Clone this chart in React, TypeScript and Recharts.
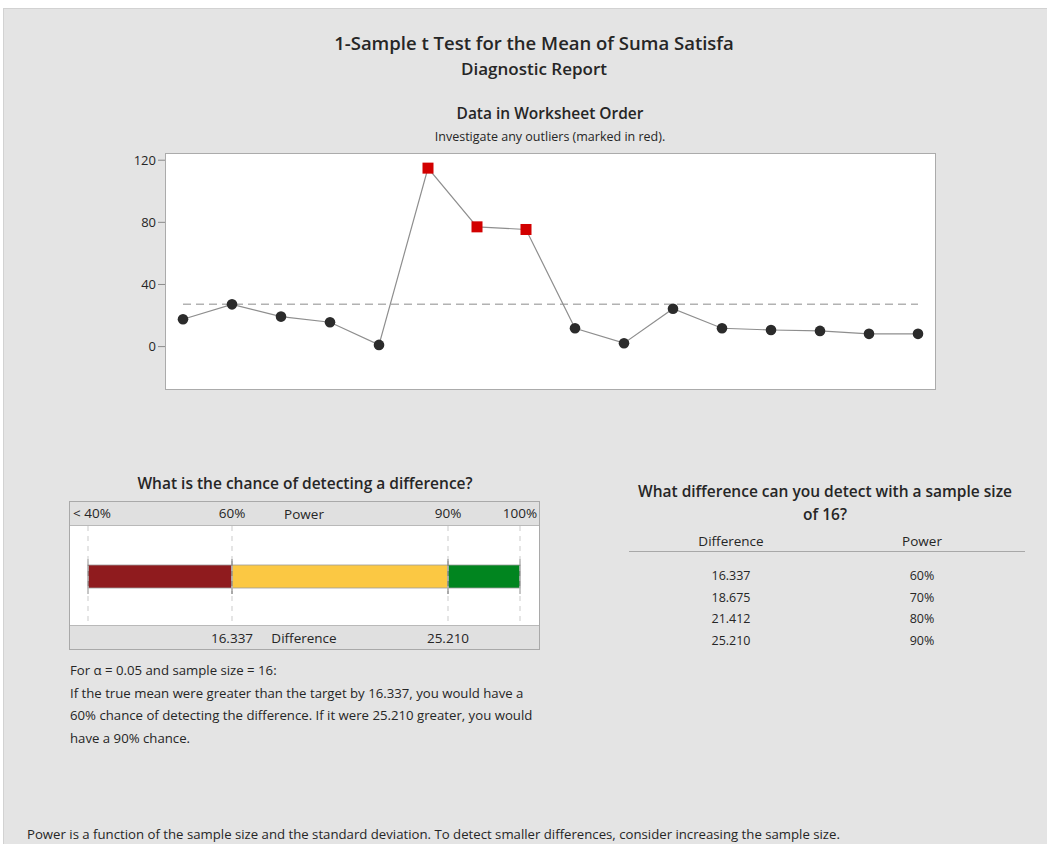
import React from 'react';
import {
  LineChart, Line, XAxis, YAxis, BarChart, Bar, ReferenceLine,
} from 'recharts';

// Observations of Suma Satisfa in worksheet order
const observations = [1, 2, 3, 4, 5, 6, 7, 8, 9, 10, 11, 12, 13, 14, 15, 16];
const satisfaValues = [17.6, 27.2, 19.3, 15.7, 1.1, 114.9, 77.1, 75.4, 11.8, 2.2, 24.4, 11.8, 10.7, 10.1, 8.2, 8.2];
// Rows flagged as unusual
const outlierRows = [6, 7, 8];
const yTicks = [0, 40, 80, 120];

// Power scale
const powerLevels = [40, 60, 90, 100];
const powerTickLabels = ['< 40%', '60%', '90%', '100%'];
const powerBands = [
  { key: 'low', range: [40, 60] },
  { key: 'mid', range: [60, 90] },
  { key: 'high', range: [90, 100] },
];

// Detectable differences for sample size 16
const detectDifferences = ['16.337', '18.675', '21.412', '25.210'];
const detectPowers = [60, 70, 80, 90];
const markedPowers = [60, 90];

const bandColors: Record<string, string> = { low: '#8f1b1e', mid: '#fbc843', high: '#01851f' };

const meanValue = satisfaValues.reduce((a, b) => a + b, 0) / satisfaValues.length;

const worksheetRows = observations.map((obs, i) => ({
  obs,
  value: satisfaValues[i],
  mean: meanValue,
  outlier: outlierRows.includes(obs),
}));

const powerRow = [
  powerBands.reduce((row: any, b) => { row[b.key] = b.range; return row; }, { name: 'power' }),
];

const FONT = '"Open Sans", "Noto Sans", sans-serif';
const TEXT = '#262626';

const renderDot = (props: any) => {
  const { cx, cy, payload, index } = props;
  if (cx == null || cy == null) return <g key={`d-${index}`} />;
  if (payload.outlier) {
    return <rect key={`d-${index}`} x={cx - 5.5} y={cy - 5.5} width={11} height={11} fill="#d20000" />;
  }
  return <circle key={`d-${index}`} cx={cx} cy={cy} r={5.3} fill="#2b2b2b" />;
};

const SegmentShape = (props: any) => {
  const { x, y, width, height, fill } = props;
  return (
    <g>
      <rect x={x} y={y} width={width} height={height} fill={fill} stroke="#9c9c9c" strokeWidth={0.8} />
      <line x1={x} x2={x} y1={y - 6} y2={y + height + 6} stroke="#8c8c8c" strokeWidth={1} />
      <line x1={x + width} x2={x + width} y1={y - 6} y2={y + height + 6} stroke="#8c8c8c" strokeWidth={1} />
    </g>
  );
};

const PowerTick = (props: any) => {
  const { x, y, payload } = props;
  const i = powerLevels.indexOf(payload.value);
  const label = powerTickLabels[i];
  const first = i === 0;
  return (
    <text x={first ? x - 15 : x} y={y} textAnchor={first ? 'start' : 'middle'}
      fontSize={13.5} fill={TEXT} fontFamily={FONT}>{label}</text>
  );
};

const DiffTick = (props: any) => {
  const { x, y, payload } = props;
  const label = detectDifferences[detectPowers.indexOf(payload.value)];
  return (
    <text x={x} y={y + 9} textAnchor="middle" fontSize={13.5} fill={TEXT} fontFamily={FONT}>{label}</text>
  );
};

const abs = (left: number, top: number, extra: React.CSSProperties = {}): React.CSSProperties => ({
  position: 'absolute', left, top, ...extra,
});

export default function App() {
  return (
    <div style={abs(0, 0, { width: 1047, height: 844, overflow: 'hidden', fontFamily: FONT, color: TEXT })}>
      <div style={abs(3, 8, { width: 1044, height: 836, background: '#e4e4e4', borderTop: '1px solid #d2d2d2', borderLeft: '1px solid #d2d2d2', boxSizing: 'border-box' })} />

      <div style={abs(184, 31, { width: 700, textAlign: 'center', fontSize: 18.5, fontWeight: 600, lineHeight: '24px' })}>
        1-Sample t Test for the Mean of Suma Satisfa
      </div>
      <div style={abs(234, 57, { width: 600, textAlign: 'center', fontSize: 17, fontWeight: 600, lineHeight: '24px' })}>
        Diagnostic Report
      </div>

      <div style={abs(350, 101, { width: 400, textAlign: 'center', fontSize: 15.5, fontWeight: 600, lineHeight: '24px' })}>
        Data in Worksheet Order
      </div>
      <div style={abs(330, 128, { width: 440, textAlign: 'center', fontSize: 12.5, lineHeight: '18px' })}>
        Investigate any outliers (marked in red).
      </div>

      {/* plot frame */}
      <div style={abs(165, 153, { width: 771, height: 237, background: '#fff', border: '1px solid #ababab', boxSizing: 'border-box' })} />

      <div style={abs(100, 140)}>
        <LineChart width={850} height={262} data={worksheetRows}
          margin={{ top: 14, right: 14, bottom: 13, left: 0 }}>
          <XAxis dataKey="obs" hide padding={{ left: 18, right: 18 }} />
          <YAxis type="number" domain={[-27.3, 124]} ticks={yTicks} width={65} allowDataOverflow
            axisLine={false} tickLine={{ stroke: '#8a8a8a' }} tickSize={7} tickMargin={2}
            tick={{ fontSize: 13, fill: TEXT, fontFamily: FONT }} />
          <Line dataKey="mean" stroke="#b2b2b2" strokeWidth={1.5} strokeDasharray="8 5"
            dot={false} activeDot={false} isAnimationActive={false} />
          <Line dataKey="value" stroke="#8e8e8e" strokeWidth={1.2} dot={renderDot}
            activeDot={false} isAnimationActive={false} />
        </LineChart>
      </div>

      {/* power bar section */}
      <div style={abs(40, 471, { width: 530, textAlign: 'center', fontSize: 15.5, fontWeight: 600, lineHeight: '24px' })}>
        What is the chance of detecting a difference?
      </div>
      <div style={abs(69, 501, { width: 471, height: 149, background: '#fff', border: '1px solid #a9a9a9', boxSizing: 'border-box' })} />
      <div style={abs(70, 502, { width: 469, height: 24, background: '#e0e0e0', borderBottom: '1px solid #b9b9b9', boxSizing: 'border-box' })} />
      <div style={abs(70, 625, { width: 469, height: 24, background: '#e0e0e0', borderTop: '1px solid #b9b9b9', boxSizing: 'border-box' })} />

      <div style={abs(70, 501)}>
        <BarChart width={469} height={149} data={powerRow} layout="vertical"
          margin={{ top: 0, right: 19, bottom: 0, left: 18 }} barSize={23} barGap={-23}>
          <XAxis xAxisId="power" orientation="top" type="number" domain={[40, 100]} ticks={powerLevels}
            height={25} axisLine={false} tickLine={false} tickSize={6} tickMargin={2} tick={<PowerTick />}
            label={{ value: 'Power', position: 'center', fontSize: 13.5, fill: TEXT, fontFamily: FONT, dy: 1 }} />
          <XAxis xAxisId="diff" orientation="bottom" type="number" domain={[40, 100]} ticks={markedPowers}
            height={24} axisLine={false} tickLine={false} tickSize={6} tickMargin={2} tick={<DiffTick />}
            label={{ value: 'Difference', position: 'center', fontSize: 13.5, fill: TEXT, fontFamily: FONT }} />
          <YAxis type="category" dataKey="name" hide />
          {powerLevels.map((p) => (
            <ReferenceLine key={p} xAxisId="power" x={p} stroke="#cbcbcb" strokeDasharray="5 5" />
          ))}
          {powerBands.map((b) => (
            <Bar key={b.key} xAxisId="power" dataKey={b.key} fill={bandColors[b.key]}
              shape={<SegmentShape />} isAnimationActive={false} />
          ))}
          <Bar xAxisId="diff" dataKey="mid" fill="none" shape={() => <g />} isAnimationActive={false} />
        </BarChart>
      </div>

      <div style={abs(70, 659, { width: 500, fontSize: 13.2, lineHeight: '22.5px', whiteSpace: 'nowrap' })}>
        <div>For α = 0.05 and sample size = 16:</div>
        <div>If the true mean were greater than the target by 16.337, you would have a</div>
        <div>60% chance of detecting the difference. If it were 25.210 greater, you would</div>
        <div>have a 90% chance.</div>
      </div>

      {/* detectable difference table */}
      <div style={abs(595, 480, { width: 460, textAlign: 'center', fontSize: 15.5, fontWeight: 600, lineHeight: '23px' })}>
        What difference can you detect with a sample size<br />of 16?
      </div>
      <div style={abs(629, 532, { width: 396 })}>
        <div style={{ display: 'flex', fontSize: 13.5, lineHeight: '18px', height: 18 }}>
          <div style={{ width: 204, textAlign: 'center' }}>Difference</div>
          <div style={{ width: 178, textAlign: 'center' }}>Power</div>
        </div>
        <div style={{ height: 0, borderTop: '1.5px solid #a8a8a8', marginTop: 1 }} />
        <div style={{ marginTop: 13 }}>
          {detectDifferences.map((d, i) => (
            <div key={d} style={{ display: 'flex', fontSize: 12.5, lineHeight: '21.7px', height: 21.7 }}>
              <div style={{ width: 204, textAlign: 'center' }}>{d}</div>
              <div style={{ width: 178, textAlign: 'center' }}>{detectPowers[i]}%</div>
            </div>
          ))}
        </div>
      </div>

      <div style={abs(27, 825, { width: 1010, fontSize: 13.2, lineHeight: '19px', whiteSpace: 'nowrap' })}>
        Power is a function of the sample size and the standard deviation. To detect smaller differences, consider increasing the sample size.
      </div>
    </div>
  );
}
